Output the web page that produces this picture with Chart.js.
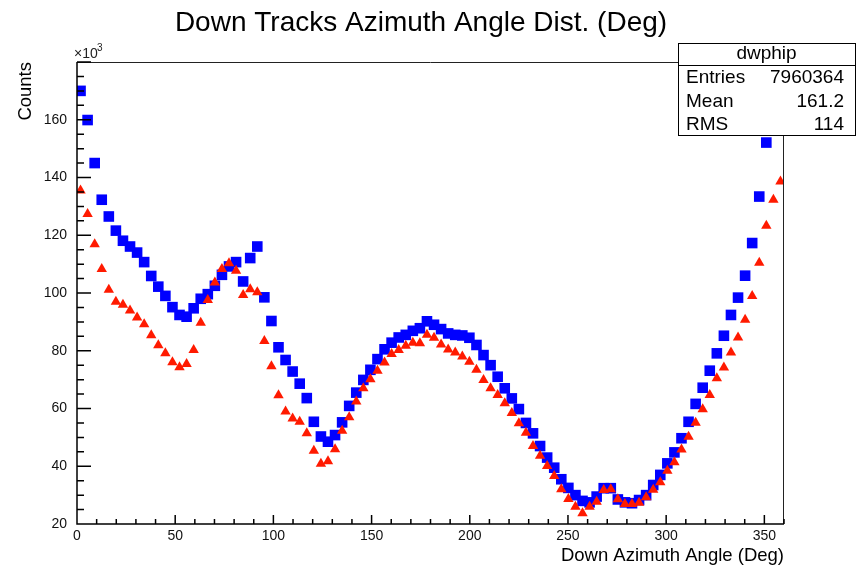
<!DOCTYPE html>
<html>
<head>
<meta charset="utf-8">
<script src="https://cdn.jsdelivr.net/npm/chart.js@4.4.1/dist/chart.umd.min.js"></script>
<style>
  body { margin: 0; background: #fff; }
  canvas { display: block; }
</style>
</head>
<body>
<canvas id="chart_area" width="864" height="568"></canvas>
<script>
'use strict';

//Binning (deg), 100 bins over 0..360
var binWidth = 3.6;
var nBins = 100;
var binCenters = [];
for (var i = 0; i < nBins; i++) {
    binCenters.push(+(binWidth * i + binWidth / 2).toFixed(1));
}

//Counts per bin, units of 10^3 (blue squares)
var countsBlue = [
    170.0, 159.9, 145.0, 132.3, 126.5, 121.6, 118.1, 116.1, 114.0, 110.7,
    105.9, 102.2,  99.0,  95.1,  92.4,  91.8,  94.7,  98.0,  99.6, 102.5,
    106.3, 109.2, 110.7, 104.0, 112.1, 116.1,  98.5,  90.3,  81.2,  76.8,
     72.8,  68.6,  63.6,  55.4,  50.3,  48.5,  50.8,  55.2,  60.9,  65.5,
     69.9,  73.4,  77.1,  80.5,  82.8,  84.6,  85.5,  86.9,  87.8,  90.2,
     89.0,  87.5,  86.0,  85.5,  85.3,  84.5,  82.0,  78.5,  75.0,  71.0,
     67.0,  63.5,  59.8,  55.0,  51.4,  47.0,  43.0,  39.5,  35.5,  32.5,
     30.0,  28.0,  27.5,  29.5,  32.4,  32.4,  28.5,  27.5,  27.2,  28.3,
     30.0,  33.5,  37.0,  41.0,  44.8,  49.7,  55.4,  61.6,  67.2,  73.1,
     79.1,  85.2,  92.4,  98.4, 106.0, 117.3, 133.4, 152.1, 162.0, 168.0
];

//Counts per bin, units of 10^3 (red triangles)
var countsRed = [
    135.5, 127.4, 116.9, 108.3, 101.1,  97.0,  95.9,  93.9,  91.5,  89.2,
     85.4,  81.9,  79.1,  76.0,  74.3,  75.4,  80.3,  89.7,  97.6, 103.6,
    108.3, 110.3, 107.7,  99.3, 101.3, 100.3,  83.4,  74.6,  64.6,  59.0,
     56.5,  55.4,  51.4,  45.4,  40.9,  41.7,  45.9,  52.3,  57.0,  62.4,
     67.0,  70.1,  73.1,  75.9,  78.9,  80.3,  81.7,  82.8,  82.6,  85.5,
     84.5,  82.2,  80.4,  79.4,  78.0,  76.2,  73.4,  69.9,  67.0,  64.7,
     61.8,  58.4,  54.9,  51.6,  47.0,  43.6,  40.1,  36.6,  32.0,  28.7,
     26.0,  23.7,  26.0,  27.7,  31.8,  32.0,  28.6,  26.9,  26.9,  27.4,
     29.3,  31.9,  34.5,  38.4,  41.4,  45.8,  50.2,  55.1,  59.7,  64.7,
     70.5,  74.2,  79.4,  84.6,  90.7,  99.0, 110.5, 123.3, 132.3, 138.6
];

//Axes
var xTicks = [0, 50, 100, 150, 200, 250, 300, 350];
var yTicks = [20, 40, 60, 80, 100, 120, 140, 160];
var xMinorStep = 10;
var yMinorStep = 5;

//Texts
var title = 'Down Tracks Azimuth Angle Dist. (Deg)';
var xTitle = 'Down Azimuth Angle (Deg)';
var yTitle = 'Counts';
var statsName = 'dwphip';
var statsLabels = ['Entries', 'Mean', 'RMS'];
var statsValues = ['7960364', '161.2', '114'];

var FONT = '"Liberation Sans", Arial, Helvetica, sans-serif';

function toPoints(vals) {
    return vals.map(function (v, i) { return { x: binCenters[i], y: v }; });
}

//Frame, inward ticks, title and stats box (ROOT style)
var rootDecor = {
    id: 'rootDecor',
    afterDatasetsDraw: function (chart) {
        var ctx = chart.ctx;
        var a = chart.chartArea;
        var xs = chart.scales.x, ys = chart.scales.y;
        var v, px, len;

        ctx.save();
        //top/right frame
        ctx.strokeStyle = '#222';
        ctx.lineWidth = 1;
        ctx.beginPath();
        ctx.moveTo(a.left, Math.round(a.top) + 0.5);
        ctx.lineTo(a.right, Math.round(a.top) + 0.5);
        ctx.moveTo(Math.round(a.right) - 0.5, a.top);
        ctx.lineTo(Math.round(a.right) - 0.5, a.bottom);
        ctx.stroke();

        //axes
        ctx.strokeStyle = '#000';
        ctx.lineWidth = 1.5;
        ctx.beginPath();
        ctx.moveTo(a.left, a.top);
        ctx.lineTo(a.left, a.bottom);
        ctx.lineTo(a.right, a.bottom);
        for (v = xs.min; v <= xs.max; v += xMinorStep) {
            px = xs.getPixelForValue(v);
            len = (v % 50 === 0) ? 9 : 5;
            ctx.moveTo(px, a.bottom);
            ctx.lineTo(px, a.bottom - len);
        }
        for (v = ys.min; v <= ys.max; v += yMinorStep) {
            px = ys.getPixelForValue(v);
            len = (v % 20 === 0) ? 14 : 7;
            ctx.moveTo(a.left, px);
            ctx.lineTo(a.left + len, px);
        }
        ctx.stroke();

        //x10^3
        ctx.fillStyle = '#222';
        ctx.textBaseline = 'alphabetic';
        ctx.textAlign = 'left';
        ctx.font = '14px ' + FONT;
        ctx.fillText('\u00d710', a.left - 3, a.top - 4);
        ctx.font = '10px ' + FONT;
        ctx.fillText('3', a.left + 20, a.top - 11);

        //title
        ctx.fillStyle = '#000';
        ctx.font = '28px ' + FONT;
        ctx.textAlign = 'center';
        ctx.textBaseline = 'middle';
        ctx.fillText(title, 421, 23);

        //stats box
        var bx = 678, by = 43, bw = 177, bh = 92, hh = 22;
        ctx.fillStyle = '#fff';
        ctx.fillRect(bx, by, bw, bh);
        ctx.strokeStyle = '#000';
        ctx.lineWidth = 1;
        ctx.strokeRect(bx + 0.5, by + 0.5, bw, bh);
        ctx.beginPath();
        ctx.moveTo(bx, by + hh + 0.5);
        ctx.lineTo(bx + bw, by + hh + 0.5);
        ctx.stroke();
        ctx.fillStyle = '#000';
        ctx.font = '19px ' + FONT;
        ctx.textAlign = 'center';
        ctx.fillText(statsName, bx + bw / 2, by + 11);
        for (var r = 0; r < statsLabels.length; r++) {
            var ry = by + hh + 13 + r * 23.5;
            ctx.textAlign = 'left';
            ctx.fillText(statsLabels[r], bx + 8, ry);
            ctx.textAlign = 'right';
            ctx.fillText(statsValues[r], bx + bw - 11, ry);
        }
        ctx.restore();
    }
};

var config = {
    type: 'scatter',
    data: {
        datasets: [
            {
                label: 'red',
                data: toPoints(countsRed),
                pointStyle: 'triangle',
                pointRadius: 6,
                pointBorderWidth: 0,
                backgroundColor: '#ff1a00',
                borderColor: '#ff1a00',
                order: 0
            },
            {
                label: 'blue',
                data: toPoints(countsBlue),
                pointStyle: 'rect',
                pointRadius: 7.5,
                pointBorderWidth: 0,
                backgroundColor: '#0000ff',
                borderColor: '#0000ff',
                order: 1
            }
        ]
    },
    options: {
        responsive: false,
        animation: false,
        layout: { padding: { top: 62, right: 80, left: 0, bottom: 0 } },
        plugins: {
            legend: { display: false },
            tooltip: { enabled: false },
            title: { display: false }
        },
        scales: {
            x: {
                type: 'linear',
                min: 0,
                max: 360,
                grid: { display: false, drawTicks: false },
                border: { display: false },
                afterBuildTicks: function (s) {
                    s.ticks = xTicks.map(function (v) { return { value: v }; });
                },
                afterFit: function (s) { s.height = 44; },
                ticks: {
                    padding: 4,
                    autoSkip: false,
                    maxRotation: 0,
                    color: '#111',
                    font: { family: FONT, size: 14 }
                },
                title: {
                    display: true,
                    text: xTitle,
                    align: 'end',
                    color: '#000',
                    font: { family: FONT, size: 18.5 },
                    padding: { top: 0, bottom: 1 }
                }
            },
            y: {
                type: 'linear',
                min: 20,
                max: 180,
                grid: { display: false, drawTicks: false },
                border: { display: false },
                afterBuildTicks: function (s) {
                    s.ticks = yTicks.map(function (v) { return { value: v }; });
                },
                afterFit: function (s) { s.width = 77; },
                ticks: {
                    padding: 10,
                    autoSkip: false,
                    color: '#111',
                    font: { family: FONT, size: 14 }
                },
                title: {
                    display: true,
                    text: yTitle,
                    align: 'end',
                    color: '#000',
                    font: { family: FONT, size: 18.5 },
                    padding: { top: 15, bottom: 0 }
                }
            }
        }
    },
    plugins: [rootDecor]
};

var ctx = document.getElementById('chart_area').getContext('2d');
window.myChart = new Chart(ctx, config);
</script>
</body>
</html>
